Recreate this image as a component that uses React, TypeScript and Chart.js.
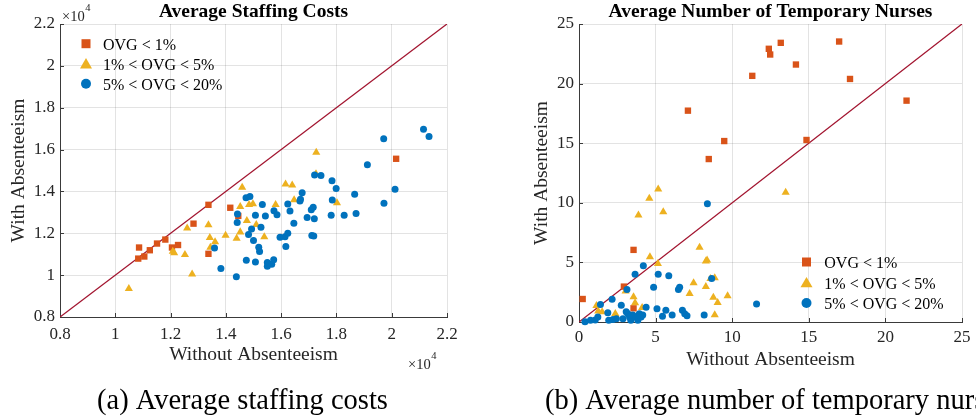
import React, { useEffect, useRef } from 'react';
import { Chart, registerables } from 'chart.js';
Chart.register(...registerables);

const ORANGE = '#D95319';
const YELLOW = '#EDB120';
const BLUE = '#0072BD';
const DIAG = '#A2142F';
const FONT = '"Liberation Serif", "Times New Roman", serif';

const legendLabels = ['OVG < 1%', '1% < OVG < 5%', '5% < OVG < 20%'];
const costTickLabels = ['0.8', '1', '1.2', '1.4', '1.6', '1.8', '2', '2.2'];
const nurseTickLabels = ['0', '5', '10', '15', '20', '25'];
const costRange = [0.8, 2.2];
const nurseRange = [0, 25];

// (a) Average staffing costs, values in units of 10^4
const costLowX = [1.086, 1.083, 1.105, 1.125, 1.151, 1.181, 1.205, 1.227, 1.283, 1.337, 1.337, 1.416, 1.445, 2.016];
const costLowY = [1.132, 1.079, 1.089, 1.119, 1.151, 1.170, 1.132, 1.144, 1.246, 1.336, 1.102, 1.322, 1.283, 1.556];

const costMidX = [1.049, 1.208, 1.213, 1.252, 1.260, 1.278, 1.337, 1.342, 1.361, 1.344, 1.399, 1.439, 1.452, 1.459, 1.452, 1.484, 1.498, 1.476, 1.510, 1.539, 1.580, 1.616, 1.640, 1.647, 1.727, 1.726, 1.802];
const costMidY = [0.935, 1.113, 1.106, 1.098, 1.224, 1.005, 1.240, 1.179, 1.159, 1.132, 1.190, 1.175, 1.206, 1.419, 1.327, 1.337, 1.340, 1.260, 1.241, 1.183, 1.337, 1.435, 1.430, 1.359, 1.586, 1.484, 1.345];

const costHighX = [1.359, 1.382, 1.438, 1.442, 1.441, 1.473, 1.487, 1.482, 1.493, 1.500, 1.507, 1.474, 1.507, 1.519, 1.522, 1.527, 1.532, 1.543, 1.550, 1.550, 1.566, 1.573, 1.574, 1.585, 1.596, 1.614, 1.624, 1.617, 1.624, 1.632, 1.646, 1.668, 1.670, 1.676, 1.694, 1.709, 1.716, 1.720, 1.711, 1.718, 1.721, 1.744, 1.781, 1.785, 1.784, 1.799, 1.828, 1.866, 1.871, 1.912, 1.971, 1.972, 2.012, 2.115, 2.135];
const costHighY = [1.130, 1.032, 0.992, 1.292, 1.252, 1.370, 1.376, 1.194, 1.221, 1.165, 1.286, 1.071, 1.063, 1.133, 1.113, 1.229, 1.338, 1.283, 1.060, 1.043, 1.052, 1.073, 1.308, 1.289, 1.181, 1.184, 1.200, 1.137, 1.340, 1.306, 1.248, 1.354, 1.363, 1.394, 1.276, 1.313, 1.324, 1.270, 1.190, 1.187, 1.478, 1.476, 1.286, 1.359, 1.451, 1.414, 1.286, 1.387, 1.295, 1.527, 1.652, 1.344, 1.410, 1.697, 1.663];

// (b) Average number of temporary nurses
const nurseLowX = [7.11, 9.48, 11.31, 12.39, 12.48, 13.17, 14.16, 14.85, 16.98, 17.69, 21.38, 8.47, 3.56, 0.24, 2.93, 3.56];
const nurseLowY = [17.73, 15.18, 20.65, 22.92, 22.44, 23.42, 21.6, 15.27, 23.53, 20.39, 18.57, 13.67, 6.05, 1.93, 2.97, 1.15];

const nurseMidX = [1.14, 1.25, 1.51, 2.37, 3.04, 3.56, 3.66, 3.88, 4.59, 4.63, 5.17, 5.15, 5.50, 4.12, 7.22, 7.48, 7.87, 8.28, 8.36, 8.28, 8.58, 8.86, 8.77, 9.05, 8.86, 9.70, 13.49];
const nurseMidY = [1.37, 0.92, 0.84, 0.70, 2.58, 2.10, 1.60, 8.96, 10.36, 5.46, 11.15, 4.90, 9.24, 1.20, 2.38, 3.28, 6.25, 5.10, 5.18, 2.97, 3.64, 3.70, 2.07, 1.62, 0.59, 2.18, 10.87];

const nurseHighX = [0.39, 0.75, 1.06, 1.23, 1.40, 1.88, 2.16, 1.94, 2.22, 2.44, 2.76, 2.87, 3.13, 3.08, 3.19, 3.30, 3.38, 3.51, 3.66, 3.73, 3.84, 3.94, 4.05, 4.16, 4.20, 4.38, 4.87, 5.09, 5.17, 5.45, 5.67, 5.86, 6.08, 6.49, 6.57, 6.75, 6.90, 7.05, 8.17, 8.38, 8.66, 11.59];
const nurseHighY = [0.03, 0.14, 0.17, 0.42, 1.46, 0.78, 1.90, 0.14, 0.20, 0.28, 1.40, 0.28, 2.72, 0.87, 0.70, 0.42, 0.14, 0.59, 4.01, 0.42, 0.14, 0.70, 0.42, 0.59, 4.71, 1.23, 2.91, 1.12, 4.01, 0.48, 0.98, 3.89, 0.59, 2.72, 2.91, 0.98, 0.70, 0.53, 0.59, 9.92, 3.64, 1.51];

const zip = (xs: number[], ys: number[]) => xs.map((x, i) => ({ x, y: ys[i] }));

type Layout = {
  key: string;
  width: number;
  title: string;
  caption: string;
  captionX: number;
  range: number[];
  step: number;
  tickLabels: string[];
  lowX: number[]; lowY: number[];
  midX: number[]; midY: number[];
  highX: number[]; highY: number[];
  padRight: number;
  yAxisWidth: number;
  xAxisHeight: number;
  xTickPad: number;
  yTitlePad: number;
  xTitlePad: number;
  legendMarkerX: number;
  legendTextX: number;
  legendBase: number;
  legendGap: number;
  exponent: boolean;
};

function drawMarker(ctx: CanvasRenderingContext2D, kind: number, x: number, y: number) {
  ctx.beginPath();
  if (kind === 0) {
    ctx.fillStyle = ORANGE;
    ctx.rect(x - 4.5, y - 4.5, 9, 9);
  } else if (kind === 1) {
    ctx.fillStyle = YELLOW;
    ctx.moveTo(x, y - 5.6);
    ctx.lineTo(x + 6, y + 4.8);
    ctx.lineTo(x - 6, y + 4.8);
    ctx.closePath();
  } else {
    ctx.fillStyle = BLUE;
    ctx.arc(x, y, 5, 0, Math.PI * 2);
  }
  ctx.fill();
}

function makePlugin(L: Layout) {
  return {
    id: 'extras_' + L.key,
    beforeDatasetsDraw(chart: any) {
      const { ctx, chartArea: a, scales } = chart;
      ctx.save();
      ctx.strokeStyle = '#3a3a3a';
      ctx.lineWidth = 1;
      ctx.beginPath();
      scales.x.ticks.forEach((_t: any, i: number) => {
        const p = Math.round(scales.x.getPixelForTick(i)) + 0.5;
        ctx.moveTo(p, a.bottom);
        ctx.lineTo(p, a.bottom - 4);
      });
      scales.y.ticks.forEach((_t: any, i: number) => {
        const p = Math.round(scales.y.getPixelForTick(i)) + 0.5;
        ctx.moveTo(a.left, p);
        ctx.lineTo(a.left + 4, p);
      });
      ctx.stroke();
      ctx.restore();
    },
    afterDraw(chart: any) {
      const { ctx, chartArea: a } = chart;
      ctx.save();
      // title
      ctx.fillStyle = '#000';
      ctx.font = `bold 19.5px ${FONT}`;
      ctx.textAlign = 'center';
      ctx.textBaseline = 'alphabetic';
      ctx.fillText(L.title, (a.left + a.right) / 2, 16.7);
      // legend
      ctx.textAlign = 'left';
      ctx.font = `16px ${FONT}`;
      legendLabels.forEach((lab, i) => {
        const base = L.legendBase + i * L.legendGap;
        drawMarker(ctx, i, L.legendMarkerX, base - 6.3);
        ctx.fillStyle = '#000';
        ctx.fillText(lab, L.legendTextX, base);
      });
      // exponent labels
      if (L.exponent) {
        ctx.fillStyle = '#262626';
        const drawExp = (x: number, base: number) => {
          ctx.font = `14.5px ${FONT}`;
          ctx.fillText('\u00d710', x, base);
          const w = ctx.measureText('\u00d710').width;
          ctx.font = `10.5px ${FONT}`;
          ctx.fillText('4', x + w + 0.5, base - 10);
        };
        drawExp(62, 20.7);
        drawExp(408, 369);
      }
      // caption
      ctx.fillStyle = '#000';
      ctx.font = `28.5px ${FONT}`;
      ctx.fillText(L.caption, L.captionX, 409);
      ctx.restore();
    },
  };
}

function ScatterPanel({ L, left }: { L: Layout; left: number }) {
  const ref = useRef<HTMLCanvasElement>(null);
  useEffect(() => {
    if (!ref.current) return;
    const tickFont = { family: FONT, size: 17 };
    const titleFont = { family: FONT, size: 19.5 };
    const labelFor = (v: number) => {
      const i = Math.round((v - L.range[0]) / L.step);
      return L.tickLabels[i] ?? '';
    };
    const gridCfg = { color: 'rgba(38,38,38,0.13)', drawTicks: false, lineWidth: 1 };
    const borderCfg = { display: true, color: '#3a3a3a', width: 1 };
    const chart = new Chart(ref.current, {
      type: 'scatter',
      data: {
        datasets: [
          {
            type: 'line',
            label: 'diag',
            data: zip(L.range, L.range),
            borderColor: DIAG,
            borderWidth: 1.3,
            pointRadius: 0,
            fill: false,
            order: 4,
          } as any,
          {
            label: legendLabels[0],
            data: zip(L.lowX, L.lowY),
            pointStyle: 'rect',
            pointRadius: 4.5,
            backgroundColor: ORANGE,
            borderWidth: 0,
            clip: false,
            order: 3,
          },
          {
            label: legendLabels[1],
            data: zip(L.midX, L.midY),
            pointStyle: 'triangle',
            pointRadius: 4.7,
            backgroundColor: YELLOW,
            borderWidth: 0,
            clip: false,
            order: 2,
          },
          {
            label: legendLabels[2],
            data: zip(L.highX, L.highY),
            pointStyle: 'circle',
            pointRadius: 3.5,
            backgroundColor: BLUE,
            borderWidth: 0,
            clip: false,
            order: 1,
          },
        ],
      },
      options: {
        animation: false,
        responsive: false,
        events: [],
        layout: { padding: { left: 0, top: 24, right: L.padRight, bottom: 0 } },
        plugins: { legend: { display: false }, tooltip: { enabled: false }, title: { display: false } },
        scales: {
          x: {
            type: 'linear',
            min: L.range[0],
            max: L.range[1],
            grid: gridCfg,
            border: borderCfg,
            ticks: {
              stepSize: L.step,
              padding: L.xTickPad,
              color: '#262626',
              font: tickFont,
              maxRotation: 0,
              autoSkip: false,
              callback: (v: any) => labelFor(Number(v)),
            },
            title: {
              display: true,
              text: 'Without Absenteeism',
              color: '#262626',
              font: titleFont,
              padding: { top: 0, bottom: L.xTitlePad },
            },
            afterFit: (s: any) => { s.height = L.xAxisHeight; },
          },
          y: {
            type: 'linear',
            min: L.range[0],
            max: L.range[1],
            grid: gridCfg,
            border: borderCfg,
            ticks: {
              stepSize: L.step,
              padding: 5,
              color: '#262626',
              font: tickFont,
              autoSkip: false,
              callback: (v: any) => labelFor(Number(v)),
            },
            title: {
              display: true,
              text: 'With Absenteeism',
              color: '#262626',
              font: titleFont,
              padding: { top: L.yTitlePad, bottom: 0 },
            },
            afterFit: (s: any) => { s.width = L.yAxisWidth; },
          },
        },
      } as any,
      plugins: [makePlugin(L)],
    });
    return () => chart.destroy();
  }, [L]);
  return (
    <canvas
      ref={ref}
      width={L.width}
      height={419}
      style={{ position: 'absolute', left, top: 0, width: L.width, height: 419 }}
    />
  );
}

const costLayout: Layout = {
  key: 'a',
  width: 500,
  title: 'Average Staffing Costs',
  caption: '(a) Average staffing costs',
  captionX: 97,
  range: costRange,
  step: 0.2,
  tickLabels: costTickLabels,
  lowX: costLowX, lowY: costLowY,
  midX: costMidX, midY: costMidY,
  highX: costHighX, highY: costHighY,
  padRight: 53,
  yAxisWidth: 60,
  xAxisHeight: 102,
  xTickPad: 7.8,
  yTitlePad: 7.5,
  xTitlePad: 52.2,
  legendMarkerX: 86,
  legendTextX: 103,
  legendBase: 50,
  legendGap: 20,
  exponent: true,
};

const nurseLayout: Layout = {
  key: 'b',
  width: 476,
  title: 'Average Number of Temporary Nurses',
  caption: '(b) Average number of temporary nurses',
  captionX: 45,
  range: nurseRange,
  step: 5,
  tickLabels: nurseTickLabels,
  lowX: nurseLowX, lowY: nurseLowY,
  midX: nurseMidX, midY: nurseMidY,
  highX: nurseHighX, highY: nurseHighY,
  padRight: 10,
  yAxisWidth: 79,
  xAxisHeight: 97,
  xTickPad: 5.5,
  yTitlePad: 30.5,
  xTitlePad: 47.3,
  legendMarkerX: 306.5,
  legendTextX: 324.3,
  legendBase: 268.3,
  legendGap: 20.5,
  exponent: false,
};

export default function App() {
  return (
    <div style={{ position: 'fixed', left: 0, top: 0, width: 976, height: 419, background: '#fff', overflow: 'hidden' }}>
      <ScatterPanel L={costLayout} left={0} />
      <ScatterPanel L={nurseLayout} left={500} />
    </div>
  );
}
